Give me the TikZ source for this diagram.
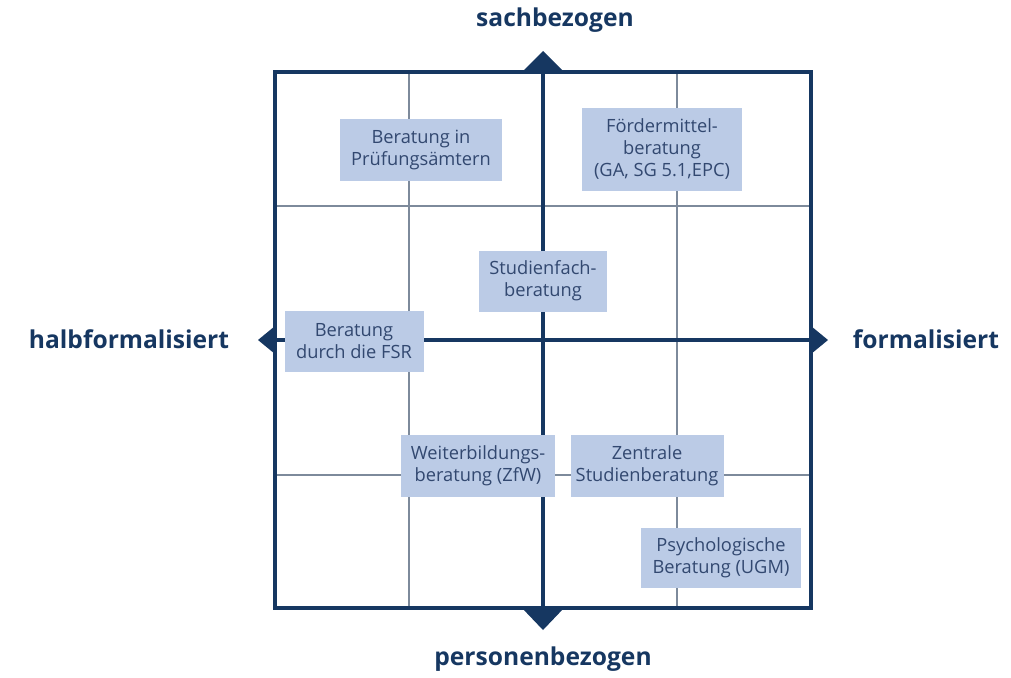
\documentclass[tikz,border=0pt]{standalone}
\usepackage{fontspec}
\setmainfont{Open Sans}
\definecolor{navy}{RGB}{22,55,97}
\definecolor{boxblue}{RGB}{187,203,230}
\definecolor{boxtext}{RGB}{50,72,112}
\definecolor{gridgray}{RGB}{125,138,155}
\tikzset{
  box/.style={fill=boxblue,text=boxtext,align=center,inner sep=0pt,
    font=\fontsize{10.4}{12.6}\selectfont},
  boxsize/.style 2 args={minimum width=#1*0.02cm,minimum height=#2*0.02cm},
  heading/.style={text=navy,font=\fontsize{14}{16}\selectfont\bfseries},
  tip/.style={fill=navy}
}
\begin{document}
\begin{tikzpicture}[x=0.02cm,y=-0.02cm]
	\useasboundingbox (0,0) rectangle (1011,677);
	% grid
	\foreach \g in {409,677}\draw[gridgray,line width=0.6pt] (\g,72)--(\g,608);
	\foreach \g in {206,475}\draw[gridgray,line width=0.6pt] (275,\g)--(811,\g);
	% frame and axes
	\draw[navy,line width=1.8pt] (275,72) rectangle (811,608);
	\coordinate (top) at (543,72);
	\coordinate (bot) at (543,608);
	\coordinate (lft) at (275,340);
	\coordinate (rgt) at (811,340);
	\draw[navy,line width=1.8pt] (top)--(bot);
	\draw[navy,line width=1.8pt] (lft)--(rgt);
	\fill[tip] (522,72)--(543,51)--(564,72)--cycle;
	\fill[tip] (522,608)--(543,630)--(564,608)--cycle;
	\fill[tip] (275,326)--(258,340)--(275,354)--cycle;
	\fill[tip] (811,326)--(828,340)--(811,354)--cycle;
	% axis labels
	\node[heading] (sach) at (555,20) {sachbezogen};
	\node[heading] (person) at (543,659) {personenbezogen};
	\node[heading] (halb) at (129,339) {halbformalisiert};
	\node[heading] (formal) at (926,339) {formalisiert};
	% offers
	\node[box,boxsize={162}{62}] (pruef) at (421,150) {Beratung in\\Prüfungsämtern};
	\node[box,boxsize={160}{83}] (foerder) at (662,149) {Fördermittel-\\beratung\\(GA, SG 5.1,EPC)};
	\node[box,boxsize={128}{61}] (fach) at (543,281) {Studienfach-\\beratung};
	\node[box,boxsize={139}{61}] (fsr) at (354,341) {Beratung\\durch die FSR};
	\node[box,boxsize={154}{62}] (weiter) at (478,466) {Weiterbildungs-\\beratung (ZfW)};
	\node[box,boxsize={153}{62}] (zentral) at (647,466) {Zentrale\\Studienberatung};
	\node[box,boxsize={160}{60}] (psych) at (721,558) {Psychologische\\Beratung (UGM)};
\end{tikzpicture}
\end{document}
